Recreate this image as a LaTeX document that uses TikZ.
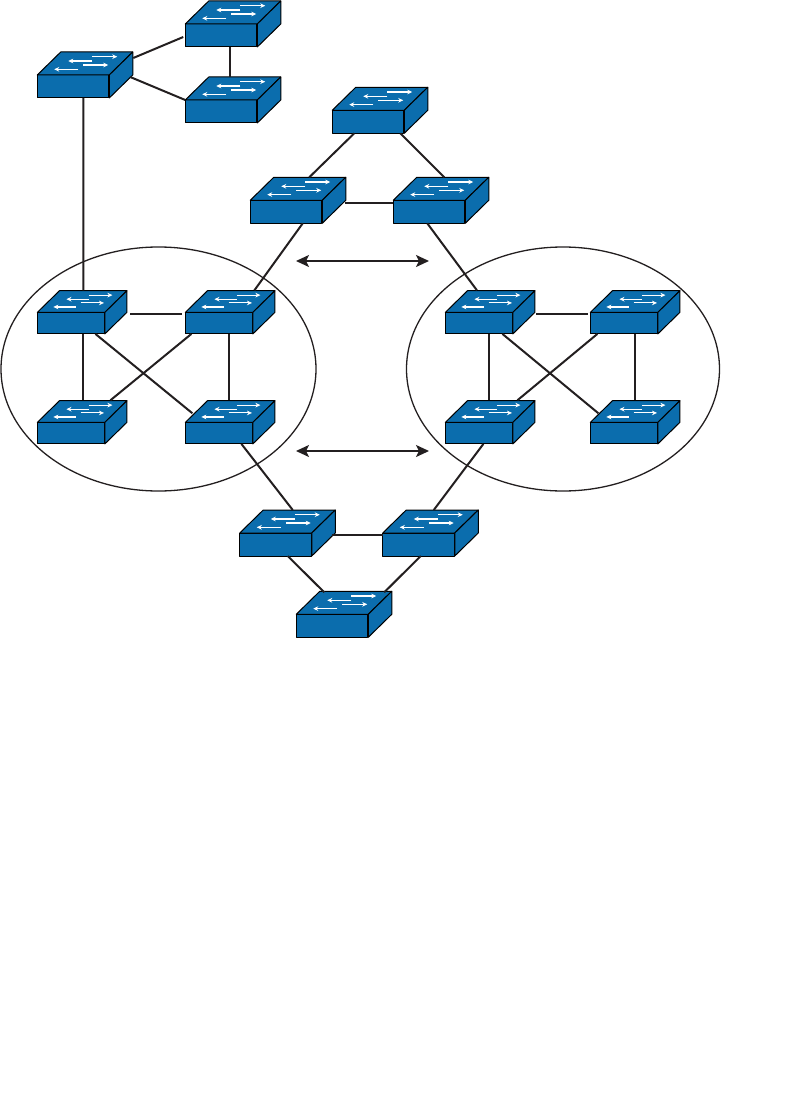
\documentclass[tikz,border=0pt]{standalone}
\usepackage{tikz}
\usetikzlibrary{positioning,arrows.meta,shapes.geometric}

\definecolor{swblue}{HTML}{0B6DAD}
\definecolor{linegray}{HTML}{231F20}

\newcommand{\swface}[2]{
\begin{scope}[shift={(#1.north west)},scale=#2]
\draw[swline] (0,0) -- (23.5,-23) -- (95.5,-23) -- (72,0) -- cycle;
\draw[swline] (72,0) -- (95.5,-23) -- (95.5,0) -- (72,23) -- cycle;
\draw[swarrow] (55,-18.3) -- (80,-18.3);
\draw[swarrow] (55,-14) -- (31,-14);
\draw[swarrow] (46,-10) -- (71,-10);
\draw[swarrow] (41,-5.7) -- (17,-5.7);
\end{scope}
}

\begin{document}
\begin{tikzpicture}[
    x=1pt,y=-1pt,
    swline/.style={draw=black,fill=swblue,line width=1pt,line join=round},
    swarrow/.style={draw=white,line width=1.1pt,-{Stealth[length=5pt,width=4.6pt]}},
    swbig/.style={rectangle,swline,outer sep=0pt,inner sep=0pt,minimum width=71.5pt,minimum height=23pt},
    swsmall/.style={rectangle,swline,outer sep=0pt,inner sep=0pt,minimum width=67.2pt,minimum height=21.6pt},
    link/.style={draw=linegray,line width=2pt},
    zone/.style={ellipse,draw=linegray,line width=1.3pt,inner sep=0pt,outer sep=0pt},
    span/.style={draw=linegray,line width=1.8pt,{Stealth[length=13pt,width=12pt,inset=3pt]}-{Stealth[length=13pt,width=12pt,inset=3pt]}}
]
\useasboundingbox (0,0) rectangle (811,1105);

\node[zone,minimum width=315pt,minimum height=244pt] (zoneL) at (158.5,369) {};
\node[zone,minimum width=313pt,minimum height=244pt] (zoneR) at (563,369) {};

% upper left triangle
\node[swbig] (swL) at (73,86.5) {};
\node[swbig] (swA) at (221,35.5) {};
\node[swbig,below=53pt of swA] (swB) {};

% upper triangle
\node[swbig] (swC) at (368,121.8) {};
\node[swbig] (swD) at (286,211.8) {};
\node[swbig,right=71.5pt of swD] (swE) {};

% left zone
\node[swsmall] (swT) at (71,323.1) {};
\node[swsmall,right=80.8pt of swT] (swU) {};
\node[swsmall,below=88.4pt of swT] (swV) {};
\node[swsmall,right=80.8pt of swV] (swW) {};

% right zone
\node[swsmall] (swP) at (479,323.1) {};
\node[swsmall,right=77.8pt of swP] (swQ) {};
\node[swsmall,below=88.4pt of swP] (swR) {};
\node[swsmall,right=77.8pt of swR] (swS) {};

% lower triangle
\node[swbig] (swM) at (275.5,544.5) {};
\node[swbig,right=71.5pt of swM] (swN) {};
\node[swbig] (swO) at (332,625.8) {};

\foreach \n in {swL,swA,swB,swC,swD,swE,swM,swN,swO}
    \swface{\n}{1};
\foreach \n in {swT,swU,swV,swW,swP,swQ,swR,swS}
    \swface{\n}{.9375};

\draw[link] ([shift={(96,-17)}]swL.north west) -- ([shift={(-2,13)}]swA.north west);
\draw[link] ([shift={(45,0)}]swA.south west) -- ([shift={(45,-23)}]swB.north west);
\draw[link] ([shift={(93,2)}]swL.north west) -- (swB.north west);
\draw[link] ([shift={(46,0)}]swL.south west) -- ([shift={(46,-22)}]swT.north west);

\draw[link] ([shift={(22,0)}]swC.south west) -- ([shift={(59,-23)}]swD.north west);
\draw[link] ([shift={(68,0)}]swC.south west) -- ([shift={(51,-23)}]swE.north west);
\draw[link] ([shift={(95,2.5)}]swD.north west) -- ([shift={(0,2.5)}]swE.north west);
\draw[link] ([shift={(52.5,0)}]swD.south west) -- ([shift={(69,-22)}]swU.north west);
\draw[link] ([shift={(34,0)}]swE.south west) -- ([shift={(31.5,-22)}]swP.north west);

\draw[link] ([shift={(93,1.5)}]swT.north west) -- ([shift={(-3,1.5)}]swU.north west);
\draw[link] ([shift={(46,0)}]swT.south west) -- ([shift={(46,-22)}]swV.north west);
\draw[link] ([shift={(58,0)}]swT.south west) -- ([shift={(7,-9)}]swW.north west);
\draw[link] ([shift={(6,0)}]swU.south west) -- ([shift={(73,-22)}]swV.north west);
\draw[link] ([shift={(44,0)}]swU.south west) -- ([shift={(44,-22)}]swW.north west);
\draw[link] ([shift={(56,0)}]swW.south west) -- ([shift={(53,-23)}]swM.north west);

\draw[link] ([shift={(91,1.5)}]swP.north west) -- ([shift={(-2,1.5)}]swQ.north west);
\draw[link] ([shift={(44,0)}]swP.south west) -- ([shift={(44,-22)}]swR.north west);
\draw[link] ([shift={(57,0)}]swP.south west) -- ([shift={(8,-9)}]swS.north west);
\draw[link] ([shift={(7,0)}]swQ.south west) -- ([shift={(72,-22)}]swR.north west);
\draw[link] ([shift={(45,0)}]swQ.south west) -- ([shift={(45,-22)}]swS.north west);
\draw[link] ([shift={(38,0)}]swR.south west) -- ([shift={(51,-23)}]swN.north west);

\draw[link] ([shift={(92,2)}]swM.north west) -- ([shift={(0,2)}]swN.north west);
\draw[link] ([shift={(48,0)}]swM.south west) -- ([shift={(28,-22)}]swO.north west);
\draw[link] ([shift={(38,0)}]swN.south west) -- ([shift={(88,-22)}]swO.north west);

\coordinate (spanAa) at (296,261);
\coordinate (spanAb) at (429,261);
\coordinate (spanBa) at (296,451);
\coordinate (spanBb) at (429,451);
\draw[span] (spanAa) -- (spanAb);
\draw[span] (spanBa) -- (spanBb);

\end{tikzpicture}
\end{document}
